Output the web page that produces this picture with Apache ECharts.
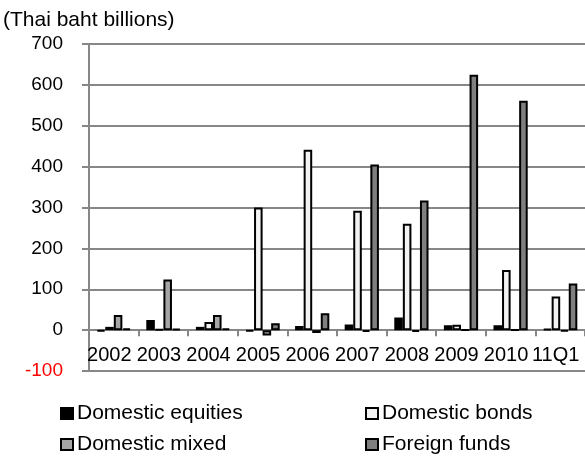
<!DOCTYPE html>
<html>
<head>
<meta charset="utf-8">
<script src="https://cdn.jsdelivr.net/npm/echarts@6/dist/echarts.min.js"></script>
<style>
  html, body { margin: 0; padding: 0; background: #fff; }
  #chart { width: 585px; height: 457px; }
</style>
</head>
<body>
<div id="chart"></div>
<script>
// Net fund flows by type, in Thai baht billions
const categories = ['2002', '2003', '2004', '2005', '2006', '2007', '2008', '2009', '2010', '11Q1'];
const domesticEquities = [-3, 25, 8, -3, 10, 14, 31, 12, 12, 3];
const domesticBonds    = [8, 2, 20, 300, 441, 292, 260, 13, 147, 82];
const domesticMixed    = [37, 124, 37, -13, -7, -4, -4, 1, 1, -3];
const foreignFunds     = [4, 3, 4, 17, 41, 405, 317, 625, 561, 114];
const yTicks = { min: -100, max: 700, step: 100 };

const FONT = 'Liberation Sans, Arial, sans-serif';
const GRID_GREY = '#878787';

const GRID = { left: 89, top: 44, width: 503, height: 327 };
// lift the category axis from the plot bottom up to the zero line
const zeroOffset = -(0 - yTicks.min) / (yTicks.max - yTicks.min) * GRID.height;

const seriesDefs = [
  { name: 'Domestic equities', data: domesticEquities, color: '#000000' },
  { name: 'Domestic bonds',    data: domesticBonds,    color: '#f2f2f2' },
  { name: 'Domestic mixed',    data: domesticMixed,    color: '#a6a6a6' },
  { name: 'Foreign funds',     data: foreignFunds,     color: '#7f7f7f' }
];

// one legend box per entry so the two columns line up
const legendSlots = [
  { left: 60,  top: 403 },
  { left: 365, top: 403 },
  { left: 60,  top: 434 },
  { left: 365, top: 434 }
];

const chart = echarts.init(document.getElementById('chart'), null, { renderer: 'canvas' });

chart.setOption({
  animation: false,
  backgroundColor: '#ffffff',
  title: {
    text: '(Thai baht billions)',
    left: 3,
    top: 10,
    padding: 0,
    textStyle: { fontFamily: FONT, fontSize: 21, fontWeight: 'normal', color: '#000' }
  },
  legend: seriesDefs.map((s, i) => ({
    data: [s.name],
    left: legendSlots[i].left,
    top: legendSlots[i].top,
    padding: 0,
    icon: 'rect',
    itemWidth: 12,
    itemHeight: 11,
    itemStyle: { color: s.color, borderColor: '#000', borderWidth: 2 },
    textStyle: { fontFamily: FONT, fontSize: 21, color: '#000', padding: [0, 0, 0, -1] },
    selectedMode: false
  })),
  grid: Object.assign({ containLabel: false }, GRID),
  xAxis: {
    type: 'category',
    data: categories,
    boundaryGap: true,
    offset: zeroOffset,
    axisLine: { onZero: false, lineStyle: { color: GRID_GREY, width: 2 } },
    axisTick: { show: true, length: 6, lineStyle: { color: GRID_GREY, width: 2 } },
    axisLabel: {
      fontFamily: FONT, fontSize: 20, color: '#000',
      margin: 15, interval: 0, padding: [0, 9, 0, 0]
    },
    splitLine: { show: false }
  },
  yAxis: {
    type: 'value',
    min: yTicks.min,
    max: yTicks.max,
    interval: yTicks.step,
    axisLine: { show: true, lineStyle: { color: GRID_GREY, width: 2 } },
    axisTick: { show: true, length: 7, lineStyle: { color: GRID_GREY, width: 2 } },
    axisLabel: {
      fontFamily: FONT, fontSize: 19, margin: 26,
      color: v => (Number(v) < 0 ? '#ff0000' : '#000000')
    },
    splitLine: { show: true, lineStyle: { color: GRID_GREY, width: 2 } }
  },
  series: seriesDefs.map((s, i) => {
    const bar = {
      name: s.name,
      type: 'bar',
      data: s.data,
      barGap: '0%',
      barCategoryGap: '31%',
      itemStyle: { color: s.color, borderColor: '#000', borderWidth: 2 }
    };
    if (i === 0) {
      // frame line along the bottom of the value range
      bar.markLine = {
        silent: true,
        symbol: ['none', 'none'],
        label: { show: false },
        lineStyle: { color: GRID_GREY, width: 2, type: 'solid' },
        data: [{ yAxis: yTicks.min }]
      };
    }
    return bar;
  })
});
</script>
</body>
</html>
